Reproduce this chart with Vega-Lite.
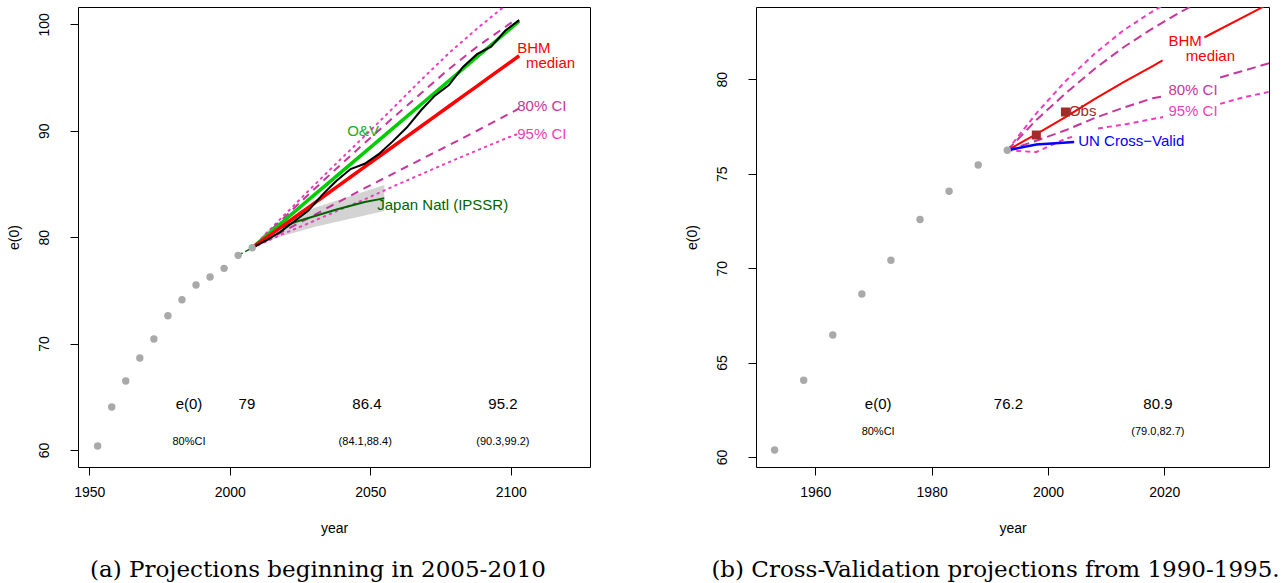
{
  "$schema": "https://vega.github.io/schema/vega-lite/v6.json",
  "background": "white",
  "padding": {"left": 6, "top": 6, "right": 0, "bottom": 0},
  "spacing": 93,
  "resolve": {"scale": {"color": "independent"}},
  "config": {
    "view": {"stroke": "black", "strokeWidth": 1},
    "axis": {"grid": false, "domain": false, "tickColor": "black", "tickSize": 8, "labelFont": "Liberation Sans", "labelFontSize": 14, "labelColor": "black", "titleFont": "Liberation Sans", "titleFontSize": 14, "titleFontWeight": "normal", "titleColor": "black"},
    "axisY": {"labelAngle": -90, "labelAlign": "center", "labelBaseline": "bottom", "labelPadding": 19, "titlePadding": 16},
    "axisX": {"labelAngle": 0, "labelPadding": 10, "titlePadding": 22},
    "title": {"font": "DejaVu Serif", "fontSize": 23, "fontWeight": "normal", "orient": "bottom", "offset": 24, "color": "black", "anchor": "middle"},
    "text": {"font": "Liberation Sans"}
  },
  "datasets": {
    "a_obs": [
      {"year": 1953, "e0": 60.38}, {"year": 1958, "e0": 64.04}, {"year": 1963, "e0": 66.48}, {"year": 1968, "e0": 68.65},
      {"year": 1973, "e0": 70.43}, {"year": 1978, "e0": 72.62}, {"year": 1983, "e0": 74.12}, {"year": 1988, "e0": 75.5},
      {"year": 1993, "e0": 76.25}, {"year": 1998, "e0": 77.07}, {"year": 2003, "e0": 78.29}, {"year": 2008, "e0": 79.0}
    ],
    "a_jhist": [{"year": 2003, "e0": 78.29}, {"year": 2008, "e0": 79.0}],
    "a_band": [
      {"year": 2008, "e0": 78.95, "hi": 79.05}, {"year": 2013, "e0": 79.55, "hi": 80.55}, {"year": 2018, "e0": 80.05, "hi": 81.35},
      {"year": 2030, "e0": 80.95, "hi": 82.75}, {"year": 2055, "e0": 82.45, "hi": 84.9}
    ],
    "a_ci95": [
      {"s": "hi", "year": 2008, "e0": 79.0}, {"s": "hi", "year": 2018, "e0": 81.7}, {"s": "hi", "year": 2028, "e0": 84.35}, {"s": "hi", "year": 2038, "e0": 86.95},
      {"s": "hi", "year": 2048, "e0": 89.5}, {"s": "hi", "year": 2058, "e0": 92.1}, {"s": "hi", "year": 2068, "e0": 94.75}, {"s": "hi", "year": 2078, "e0": 97.3},
      {"s": "hi", "year": 2088, "e0": 99.6}, {"s": "hi", "year": 2098, "e0": 101.75}, {"s": "hi", "year": 2103, "e0": 102.85},
      {"s": "lo", "year": 2008, "e0": 79.0}, {"s": "lo", "year": 2018, "e0": 80.2}, {"s": "lo", "year": 2028, "e0": 81.3}, {"s": "lo", "year": 2038, "e0": 82.45},
      {"s": "lo", "year": 2048, "e0": 83.55}, {"s": "lo", "year": 2058, "e0": 84.75}, {"s": "lo", "year": 2068, "e0": 85.9}, {"s": "lo", "year": 2078, "e0": 87.05},
      {"s": "lo", "year": 2088, "e0": 88.15}, {"s": "lo", "year": 2098, "e0": 89.25}, {"s": "lo", "year": 2103, "e0": 89.75}
    ],
    "a_ci80": [
      {"s": "hi", "year": 2008, "e0": 79.0}, {"s": "hi", "year": 2018, "e0": 81.5}, {"s": "hi", "year": 2028, "e0": 84.0}, {"s": "hi", "year": 2038, "e0": 86.45},
      {"s": "hi", "year": 2048, "e0": 88.85}, {"s": "hi", "year": 2058, "e0": 91.2}, {"s": "hi", "year": 2068, "e0": 93.5}, {"s": "hi", "year": 2078, "e0": 95.8},
      {"s": "hi", "year": 2088, "e0": 97.9}, {"s": "hi", "year": 2098, "e0": 99.75}, {"s": "hi", "year": 2102, "e0": 100.5},
      {"s": "lo", "year": 2008, "e0": 79.0}, {"s": "lo", "year": 2018, "e0": 80.4}, {"s": "lo", "year": 2028, "e0": 81.8}, {"s": "lo", "year": 2038, "e0": 83.2},
      {"s": "lo", "year": 2048, "e0": 84.6}, {"s": "lo", "year": 2058, "e0": 85.95}, {"s": "lo", "year": 2068, "e0": 87.3}, {"s": "lo", "year": 2078, "e0": 88.65},
      {"s": "lo", "year": 2088, "e0": 90.0}, {"s": "lo", "year": 2098, "e0": 91.4}, {"s": "lo", "year": 2103, "e0": 92.1}
    ],
    "a_japan": [
      {"year": 2008, "e0": 79.0}, {"year": 2013, "e0": 80.1}, {"year": 2018, "e0": 80.85}, {"year": 2023, "e0": 81.4}, {"year": 2028, "e0": 81.8},
      {"year": 2033, "e0": 82.2}, {"year": 2038, "e0": 82.6}, {"year": 2043, "e0": 82.95}, {"year": 2048, "e0": 83.3}, {"year": 2053, "e0": 83.55}, {"year": 2055, "e0": 83.65}
    ],
    "a_ov": [
      {"year": 2008, "e0": 79.0}, {"year": 2028, "e0": 83.5}, {"year": 2053, "e0": 89.1}, {"year": 2078, "e0": 94.7}, {"year": 2103, "e0": 100.3}
    ],
    "a_bhm": [
      {"year": 2008, "e0": 79.0}, {"year": 2013, "e0": 79.95}, {"year": 2018, "e0": 80.9}, {"year": 2023, "e0": 81.85}, {"year": 2028, "e0": 82.8},
      {"year": 2033, "e0": 83.75}, {"year": 2038, "e0": 84.7}, {"year": 2043, "e0": 85.65}, {"year": 2048, "e0": 86.6}, {"year": 2053, "e0": 87.55},
      {"year": 2058, "e0": 88.5}, {"year": 2063, "e0": 89.45}, {"year": 2068, "e0": 90.4}, {"year": 2073, "e0": 91.35}, {"year": 2078, "e0": 92.3},
      {"year": 2083, "e0": 93.25}, {"year": 2088, "e0": 94.2}, {"year": 2093, "e0": 95.15}, {"year": 2098, "e0": 96.1}, {"year": 2103, "e0": 97.05}
    ],
    "a_black": [
      {"year": 2008, "e0": 79.0}, {"year": 2013, "e0": 79.7}, {"year": 2018, "e0": 80.5}, {"year": 2023, "e0": 81.5}, {"year": 2028, "e0": 82.5},
      {"year": 2033, "e0": 84.0}, {"year": 2038, "e0": 85.3}, {"year": 2043, "e0": 86.4}, {"year": 2048, "e0": 86.9}, {"year": 2053, "e0": 87.8},
      {"year": 2058, "e0": 89.0}, {"year": 2063, "e0": 90.3}, {"year": 2068, "e0": 91.9}, {"year": 2073, "e0": 93.3}, {"year": 2078, "e0": 94.3},
      {"year": 2083, "e0": 96.0}, {"year": 2088, "e0": 97.2}, {"year": 2093, "e0": 97.9}, {"year": 2098, "e0": 99.4}, {"year": 2103, "e0": 100.4}
    ],
    "a_labels": [
      {"year": 2102.3, "e0": 97.8, "label": "BHM", "grp": "bhm"},
      {"year": 2105.4, "e0": 96.4, "label": "median", "grp": "bhm"},
      {"year": 2102.3, "e0": 92.3, "label": "80% CI", "grp": "ci80"},
      {"year": 2102.3, "e0": 89.7, "label": "95% CI", "grp": "ci95"},
      {"year": 2041.8, "e0": 90.0, "label": "O&V", "grp": "ov"},
      {"year": 2052.5, "e0": 83.0, "label": "Japan Natl (IPSSR)", "grp": "japan"}
    ],
    "a_annot": [
      {"year": 1985.5, "e0": 64.3, "label": "e(0)"}, {"year": 2006.1, "e0": 64.3, "label": "79"},
      {"year": 2048.8, "e0": 64.3, "label": "86.4"}, {"year": 2097.2, "e0": 64.3, "label": "95.2"}
    ],
    "a_small": [
      {"year": 1985.5, "e0": 60.74, "label": "80%CI"}, {"year": 2048.2, "e0": 60.74, "label": "(84.1,88.4)"}, {"year": 2097.2, "e0": 60.74, "label": "(90.3,99.2)"}
    ],
    "b_obs": [
      {"year": 1953, "e0": 60.37}, {"year": 1958, "e0": 64.06}, {"year": 1963, "e0": 66.46}, {"year": 1968, "e0": 68.63},
      {"year": 1973, "e0": 70.42}, {"year": 1978, "e0": 72.58}, {"year": 1983, "e0": 74.07}, {"year": 1988, "e0": 75.46}, {"year": 1993, "e0": 76.24}
    ],
    "b_sq": [{"year": 1998, "e0": 77.05}, {"year": 2003, "e0": 78.27}],
    "b_ci95": [
      {"s": "hi", "year": 1993, "e0": 76.24}, {"s": "hi", "year": 1998, "e0": 78.2}, {"s": "hi", "year": 2003, "e0": 79.9}, {"s": "hi", "year": 2008, "e0": 81.35},
      {"s": "hi", "year": 2013, "e0": 82.6}, {"s": "hi", "year": 2018, "e0": 83.6}, {"s": "hi", "year": 2023, "e0": 84.5},
      {"s": "lo", "year": 1993, "e0": 76.24}, {"s": "lo", "year": 1998, "e0": 76.15}, {"s": "lo", "year": 2003, "e0": 76.85}, {"s": "lo", "year": 2004.7, "e0": 77.0},
      {"s": "lo", "year": 2006.5, "e0": null}, {"s": "lo", "year": 2008.6, "e0": 77.4}, {"s": "lo", "year": 2013, "e0": 77.6}, {"s": "lo", "year": 2018, "e0": 77.9},
      {"s": "lo", "year": 2019.8, "e0": 78.0}, {"s": "lo", "year": 2024, "e0": null}, {"s": "lo", "year": 2029.6, "e0": 78.7}, {"s": "lo", "year": 2033, "e0": 79.0},
      {"s": "lo", "year": 2038, "e0": 79.34}
    ],
    "b_ci80": [
      {"s": "hi", "year": 1993, "e0": 76.24}, {"s": "hi", "year": 1998, "e0": 77.85}, {"s": "hi", "year": 2003, "e0": 79.25}, {"s": "hi", "year": 2008, "e0": 80.55},
      {"s": "hi", "year": 2013, "e0": 81.7}, {"s": "hi", "year": 2018, "e0": 82.7}, {"s": "hi", "year": 2023, "e0": 83.6}, {"s": "hi", "year": 2028, "e0": 84.4},
      {"s": "lo", "year": 1993, "e0": 76.24}, {"s": "lo", "year": 1998, "e0": 76.75}, {"s": "lo", "year": 2003, "e0": 77.3}, {"s": "lo", "year": 2008, "e0": 77.95},
      {"s": "lo", "year": 2013, "e0": 78.5}, {"s": "lo", "year": 2018, "e0": 79.0}, {"s": "lo", "year": 2019.8, "e0": 79.1}, {"s": "lo", "year": 2024, "e0": null},
      {"s": "lo", "year": 2029.6, "e0": 80.1}, {"s": "lo", "year": 2033, "e0": 80.4}, {"s": "lo", "year": 2038, "e0": 80.85}
    ],
    "b_bhm": [
      {"year": 1993, "e0": 76.24}, {"year": 1998, "e0": 77.1}, {"year": 2003, "e0": 78.0}, {"year": 2008, "e0": 78.95}, {"year": 2013, "e0": 79.85},
      {"year": 2018, "e0": 80.7}, {"year": 2019.7, "e0": 81.0}, {"year": 2022.5, "e0": null}, {"year": 2026.9, "e0": 82.22}, {"year": 2028, "e0": 82.4},
      {"year": 2033, "e0": 83.2}, {"year": 2038, "e0": 84.0}
    ],
    "b_un": [{"year": 1993, "e0": 76.24}, {"year": 1998, "e0": 76.55}, {"year": 2004.5, "e0": 76.68}],
    "b_labels": [
      {"year": 2003.6, "e0": 78.33, "label": "Obs", "grp": "obs"},
      {"year": 2005.2, "e0": 76.74, "label": "UN Cross−Valid", "grp": "un"},
      {"year": 2020.7, "e0": 82.03, "label": "BHM", "grp": "bhm"},
      {"year": 2023.7, "e0": 81.24, "label": "median", "grp": "bhm"},
      {"year": 2020.7, "e0": 79.42, "label": "80% CI", "grp": "ci80"},
      {"year": 2020.7, "e0": 78.33, "label": "95% CI", "grp": "ci95"}
    ],
    "b_annot": [
      {"year": 1970.8, "e0": 62.82, "label": "e(0)"}, {"year": 1993.2, "e0": 62.82, "label": "76.2"}, {"year": 2018.9, "e0": 62.82, "label": "80.9"}
    ],
    "b_small": [
      {"year": 1970.8, "e0": 61.34, "label": "80%CI"}, {"year": 2018.9, "e0": 61.34, "label": "(79.0,82.7)"}
    ]
  },
  "hconcat": [
    {
      "width": 512,
      "height": 460,
      "title": {"text": "(a) Projections beginning in 2005-2010", "dx": -16},
      "encoding": {
        "x": {"field": "year", "type": "quantitative", "scale": {"domain": [1946, 2128.2], "nice": false, "zero": false}, "axis": {"values": [1950, 2000, 2050, 2100], "format": "d", "title": "year"}},
        "y": {"field": "e0", "type": "quantitative", "scale": {"domain": [58.4, 101.63], "nice": false, "zero": false}, "axis": {"values": [60, 70, 80, 90, 100], "title": "e(0)"}}
      },
      "layer": [
        {"data": {"name": "a_band"}, "mark": {"type": "area", "color": "#D3D3D3", "opacity": 1}, "encoding": {"y2": {"field": "hi"}}},
        {"data": {"name": "a_jhist"}, "mark": {"type": "line", "color": "#006400", "strokeWidth": 1.5, "strokeDash": [5, 3]}, "encoding": {}},
        {"data": {"name": "a_ci95"}, "mark": {"type": "line", "color": "#F03CC0", "strokeWidth": 2, "strokeDash": [1.5, 5], "strokeCap": "round", "clip": true}, "encoding": {"detail": {"field": "s"}}},
        {"data": {"name": "a_ci80"}, "mark": {"type": "line", "color": "#C8359C", "strokeWidth": 2, "strokeDash": [8, 6], "clip": true}, "encoding": {"detail": {"field": "s"}}},
        {"data": {"name": "a_japan"}, "mark": {"type": "line", "color": "#006400", "strokeWidth": 2}, "encoding": {}},
        {"data": {"name": "a_ov"}, "mark": {"type": "line", "color": "#00CD00", "strokeWidth": 3.5}, "encoding": {}},
        {"data": {"name": "a_bhm"}, "mark": {"type": "line", "color": "#FF0000", "strokeWidth": 3.5}, "encoding": {}},
        {"data": {"name": "a_black"}, "mark": {"type": "line", "color": "#000000", "strokeWidth": 2}, "encoding": {}},
        {"data": {"name": "a_obs"}, "mark": {"type": "circle", "color": "#A9A9A9", "opacity": 1, "size": 55}},
        {"data": {"name": "a_labels"}, "mark": {"type": "text", "align": "left", "baseline": "middle", "fontSize": 15},
          "encoding": {"text": {"field": "label"}, "color": {"field": "grp", "type": "nominal", "legend": null,
            "scale": {"domain": ["bhm", "ci80", "ci95", "ov", "japan"], "range": ["#FF0000", "#C8359C", "#F03CC0", "#22AA22", "#006400"]}}}},
        {"data": {"name": "a_annot"}, "mark": {"type": "text", "align": "center", "baseline": "middle", "fontSize": 15, "color": "black"}, "encoding": {"text": {"field": "label"}}},
        {"data": {"name": "a_small"}, "mark": {"type": "text", "align": "center", "baseline": "middle", "fontSize": 11, "color": "black"}, "encoding": {"text": {"field": "label"}}}
      ]
    },
    {
      "width": 513,
      "height": 460,
      "title": {"text": "(b) Cross-Validation projections from 1990-1995.", "dx": -17},
      "encoding": {
        "x": {"field": "year", "type": "quantitative", "scale": {"domain": [1949.8, 2038.0], "nice": false, "zero": false}, "axis": {"values": [1960, 1980, 2000, 2020], "format": "d", "title": "year"}},
        "y": {"field": "e0", "type": "quantitative", "scale": {"domain": [59.47, 83.83], "nice": false, "zero": false}, "axis": {"values": [60, 65, 70, 75, 80], "title": "e(0)"}}
      },
      "layer": [
        {"data": {"name": "b_ci95"}, "mark": {"type": "line", "color": "#F03CC0", "strokeWidth": 2, "strokeDash": [5, 4], "clip": true}, "encoding": {"detail": {"field": "s"}}},
        {"data": {"name": "b_ci80"}, "mark": {"type": "line", "color": "#C8359C", "strokeWidth": 2, "strokeDash": [9, 5], "clip": true}, "encoding": {"detail": {"field": "s"}}},
        {"data": {"name": "b_bhm"}, "mark": {"type": "line", "color": "#FF0000", "strokeWidth": 2, "clip": true}, "encoding": {}},
        {"data": {"name": "b_un"}, "mark": {"type": "line", "color": "#0000FF", "strokeWidth": 2.5}, "encoding": {}},
        {"data": {"name": "b_obs"}, "mark": {"type": "circle", "color": "#A9A9A9", "opacity": 1, "size": 55}},
        {"data": {"name": "b_sq"}, "mark": {"type": "square", "color": "#A52A2A", "opacity": 1, "size": 81}},
        {"data": {"name": "b_labels"}, "mark": {"type": "text", "align": "left", "baseline": "middle", "fontSize": 15},
          "encoding": {"text": {"field": "label"}, "color": {"field": "grp", "type": "nominal", "legend": null,
            "scale": {"domain": ["obs", "un", "bhm", "ci80", "ci95"], "range": ["#A52A2A", "#0000FF", "#FF0000", "#C8359C", "#F03CC0"]}}}},
        {"data": {"name": "b_annot"}, "mark": {"type": "text", "align": "center", "baseline": "middle", "fontSize": 15, "color": "black"}, "encoding": {"text": {"field": "label"}}},
        {"data": {"name": "b_small"}, "mark": {"type": "text", "align": "center", "baseline": "middle", "fontSize": 11, "color": "black"}, "encoding": {"text": {"field": "label"}}}
      ]
    }
  ]
}
